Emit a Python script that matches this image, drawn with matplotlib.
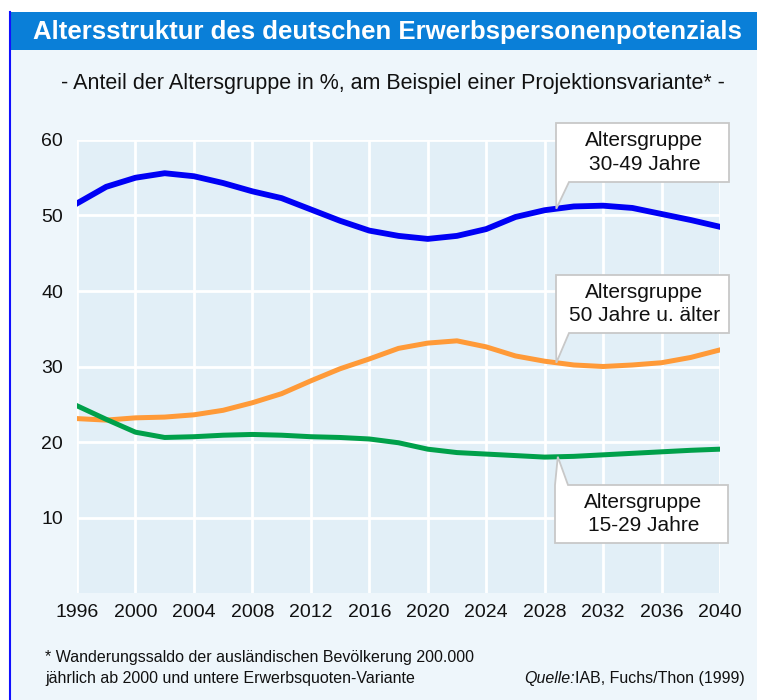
import numpy as np
import matplotlib
matplotlib.use("Agg")
import matplotlib.pyplot as plt
from matplotlib.patches import Rectangle, Polygon

plt.rcParams['font.family'] = ['Liberation Sans', 'DejaVu Sans']

jahre = list(range(1996, 2041, 2))
alter_30_49 = [51.6, 53.8, 55.0, 55.6, 55.2, 54.3, 53.2, 52.3, 50.8, 49.3, 48.0, 47.3,
               46.9, 47.3, 48.2, 49.8, 50.7, 51.2, 51.3, 51.0, 50.2, 49.4, 48.5]
alter_50_plus = [23.1, 22.9, 23.2, 23.3, 23.6, 24.2, 25.2, 26.4, 28.1, 29.7, 31.0, 32.4,
                 33.1, 33.4, 32.6, 31.4, 30.7, 30.2, 30.0, 30.2, 30.5, 31.2, 32.2]
alter_15_29 = [24.8, 23.0, 21.3, 20.6, 20.7, 20.9, 21.0, 20.9, 20.7, 20.6, 20.4, 19.9,
               19.05, 18.6, 18.4, 18.2, 18.0, 18.1, 18.3, 18.5, 18.7, 18.9, 19.05]
x_ticks = list(range(1996, 2041, 4))
y_ticks = [10, 20, 30, 40, 50, 60]

W, H = 757, 700
fig = plt.figure(figsize=(W / 100, H / 100), dpi=100)
fig.patch.set_facecolor('white')

def px(x, y):
    # pixel coords (top-left origin) -> figure fraction
    return x / W, 1 - y / H

# background panel, left border, title bar
fig.patches.append(Rectangle(px(10, H), (W - 10) / W, (H - 12) / H, transform=fig.transFigure,
                             facecolor='#eef6fb', edgecolor='none', zorder=-3))
fig.patches.append(Rectangle(px(10, 50), (W - 10) / W, 38 / H, transform=fig.transFigure,
                             facecolor='#0a7fd8', edgecolor='none', zorder=-2))
fig.lines.append(plt.Line2D([10 / W, 10 / W], [0, 1 - 12 / H], transform=fig.transFigure,
                            color='#1010ff', lw=1.5, zorder=-1))

fig.text(*px(33, 32), 'Altersstruktur des deutschen Erwerbspersonenpotenzials', color='white',
         fontsize=18.5, fontweight='bold', va='center', ha='left')
fig.text(*px(393, 84), '- Anteil der Altersgruppe in %, am Beispiel einer Projektionsvariante* -',
         fontsize=15.5, va='center', ha='center', color='#111111')

l, r, t, b = 77, 720, 140, 593
ax = fig.add_axes([l / W, 1 - b / H, (r - l) / W, (b - t) / H])
ax.set_zorder(2)
ax.set_facecolor('#e2eff7')
ax.set_xlim(1996, 2040)
ax.set_ylim(0, 60)
ax.set_xticks(x_ticks)
ax.set_yticks(y_ticks)
ax.grid(True, color='white', lw=2)
ax.set_axisbelow(True)
for s in ax.spines.values():
    s.set_visible(False)
ax.tick_params(length=0, labelsize=14, colors='#111111', pad=8)
ax.tick_params(axis='y', pad=18)
for lab in ax.get_yticklabels():
    lab.set_ha('center')

ax.plot(jahre, alter_30_49, color='#0000f5', lw=4.2, solid_joinstyle='round', zorder=3)
ax.plot(jahre, alter_50_plus, color='#ff9a38', lw=3.6, solid_joinstyle='round', zorder=3)
ax.plot(jahre, alter_15_29, color='#00a04a', lw=3.6, solid_joinstyle='round', zorder=3)

fig.canvas.draw()

def callout(year, series, box, text, up):
    bx0, by0, bx1, by1 = box
    tx, ty = ax.transData.transform((year, np.interp(year, jahre, series)))
    ty = H - ty
    if up:
        pts = [(bx0 + 13, by0), (bx1, by0), (bx1, by1), (bx0, by1), (bx0, by0), (tx, ty)]
    else:
        pts = [(bx0, by0), (bx1, by0), (bx1, by1), (bx0 + 13, by1), (tx, ty), (bx0, by1)]
    poly = Polygon([px(x, y) for x, y in pts], closed=True, transform=fig.transFigure,
                   facecolor='white', edgecolor='#c8c8c8', lw=1.3, zorder=5)
    fig.patches.append(poly)
    fig.text(*px((bx0 + bx1) / 2 + 2, (by0 + by1) / 2), text, ha='center', va='center',
             fontsize=15, linespacing=1.3, color='#111111', zorder=6)

callout(2028.8, alter_30_49, (556, 123, 729, 182), 'Altersgruppe\n30-49 Jahre', False)
callout(2028.8, alter_50_plus, (556, 275, 729, 333), 'Altersgruppe\n50 Jahre u. älter', False)
callout(2028.9, alter_15_29, (555, 485, 728, 543), 'Altersgruppe\n15-29 Jahre', True)

fig.text(*px(45, 668), '* Wanderungssaldo der ausländischen Bevölkerung 200.000\n'
         'jährlich ab 2000 und untere Erwerbsquoten-Variante',
         fontsize=11.5, va='center', ha='left', linespacing=1.45, color='#111111')
src = fig.text(*px(745, 678), 'IAB, Fuchs/Thon (1999)', fontsize=11.5, va='center', ha='right',
               color='#111111')
fig.canvas.draw()
src_x0 = src.get_window_extent().x0
fig.text(src_x0 / W, 1 - 678 / H, 'Quelle:', fontsize=11.5, va='center', ha='right',
         style='italic', color='#111111')

fig.savefig('out.png', dpi=100, facecolor=fig.get_facecolor())
